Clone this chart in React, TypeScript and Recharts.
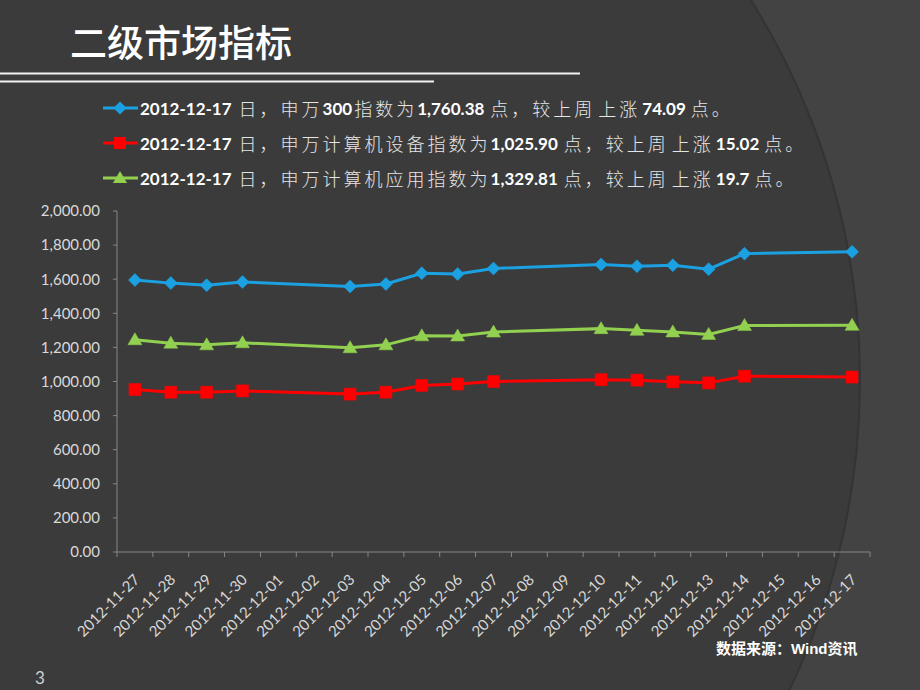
import { LineChart, Line, XAxis, YAxis } from 'recharts';

const dates = [
  '2012-11-27', '2012-11-28', '2012-11-29', '2012-11-30', '2012-12-01', '2012-12-02', '2012-12-03',
  '2012-12-04', '2012-12-05', '2012-12-06', '2012-12-07', '2012-12-08', '2012-12-09', '2012-12-10',
  '2012-12-11', '2012-12-12', '2012-12-13', '2012-12-14', '2012-12-15', '2012-12-16', '2012-12-17',
];
// 申万300
const sw300 = [1595, 1577, 1565, 1584, null, null, 1557, 1572, 1635, 1630, 1663, null, null, 1686.29, 1676, 1682, 1659, 1750, null, null, 1760.38];
// 申万计算机设备
const swEquipment = [953, 937, 937, 945, null, null, 926, 937, 977, 985, 1000, null, null, 1010.88, 1008, 998, 992, 1031, null, null, 1025.9];
// 申万计算机应用
const swSoftware = [1245, 1225, 1215, 1227, null, null, 1198, 1215, 1268, 1267, 1290, null, null, 1310.11, 1300, 1291, 1276, 1328, null, null, 1329.81];
const yTicks = [0, 200, 400, 600, 800, 1000, 1200, 1400, 1600, 1800, 2000];

const legendRows = [
  { color: '#1ba1e2', marker: 'diamond', pre: '申万', mid: '300', post: '指数为', value: '1,760.38', change: '74.09' },
  { color: '#ff0000', marker: 'square', pre: '申万计算机设备指数为', mid: '', post: '', value: '1,025.90', change: '15.02' },
  { color: '#92d050', marker: 'triangle', pre: '申万计算机应用指数为', mid: '', post: '', value: '1,329.81', change: '19.7' },
];

const data = dates.map((d, i) => ({ date: d, a: sw300[i], b: swEquipment[i], c: swSoftware[i] }));

const PLOT_LEFT = 117;
const PLOT_RIGHT = 870;
const BAND = (PLOT_RIGHT - PLOT_LEFT) / dates.length;
const X_TICK_MARGIN = 25;

const LATIN = 'Lato, "Noto Sans CJK SC", sans-serif';
const CJK = '"Noto Sans CJK SC", sans-serif';

function markerPath(kind: string, cx: number, cy: number) {
  if (kind === 'diamond') return `M${cx},${cy - 6.5}L${cx + 6.5},${cy}L${cx},${cy + 6.5}L${cx - 6.5},${cy}Z`;
  if (kind === 'square') return `M${cx - 6},${cy - 6}h12v12h-12Z`;
  return `M${cx},${cy - 7}L${cx + 7},${cy + 5}L${cx - 7},${cy + 5}Z`;
}

const makeDot = (kind: string, color: string) => (p: any) => {
  if (p.cy == null || p.value == null) return <g key={p.index} />;
  return <path key={p.index} d={markerPath(kind, p.cx, p.cy)} fill={color} stroke={color} strokeWidth={0.5} />;
};

const XTick = (props: any) => {
  const { x, y, payload, index } = props;
  const axisY = y - X_TICK_MARGIN;
  return (
    <g>
      <line x1={x - BAND / 2} y1={axisY} x2={x - BAND / 2} y2={axisY + 5} stroke="#868686" />
      {index === dates.length - 1 && (
        <line x1={x + BAND / 2} y1={axisY} x2={x + BAND / 2} y2={axisY + 5} stroke="#868686" />
      )}
      <text
        x={x + 2}
        y={y}
        transform={`rotate(-45, ${x + 2}, ${y})`}
        textAnchor="end"
        dy="0.35em"
        fill="#d9d9d9"
        fontSize={15}
        fontFamily={LATIN}
      >
        {payload.value}
      </text>
    </g>
  );
};

const fmt = (v: number) => v.toLocaleString('en-US', { minimumFractionDigits: 2, maximumFractionDigits: 2 });

const num = { fontFamily: LATIN, fontWeight: 700, fontSize: 17, color: '#ffffff' };
const han = { fontFamily: CJK, fontWeight: 300, fontSize: 18, letterSpacing: 3, color: '#e6e6e6' };

export default function App() {
  return (
    <div style={{ position: 'absolute', left: 0, top: 0, width: 920, height: 690, overflow: 'hidden', background: '#434343' }}>
      <svg width={920} height={690} style={{ position: 'absolute', left: 0, top: 0 }}>
        <circle cx={144} cy={380} r={717} fill="#343434" />
        <circle cx={144} cy={380} r={715} fill="#3b3b3b" />
        <line x1={0} y1={73.5} x2={580} y2={73.5} stroke="#f2f2f2" strokeWidth={2} />
        <line x1={0} y1={81.5} x2={434} y2={81.5} stroke="#f2f2f2" strokeWidth={2} />
      </svg>

      <div style={{ position: 'absolute', left: 70, top: 17, fontFamily: CJK, fontSize: 37, fontWeight: 500, color: '#ffffff', lineHeight: '48px' }}>
        二级市场指标
      </div>

      {legendRows.map((r, i) => (
        <div key={r.pre} style={{ position: 'absolute', left: 102, top: 96 + i * 35, height: 24, display: 'flex', alignItems: 'center', whiteSpace: 'nowrap' }}>
          <svg width={37} height={24} style={{ marginRight: 1 }}>
            <line x1={1} y1={12} x2={36} y2={12} stroke={r.color} strokeWidth={3} />
            <path d={markerPath(r.marker, 18, 12)} fill={r.color} />
          </svg>
          <span style={num}>2012-12-17</span>
          <span style={{ ...han, marginLeft: 7 }}>日，</span>
          <span style={han}>{r.pre}</span>
          {r.mid && <span style={{ ...num, marginRight: 2 }}>{r.mid}</span>}
          {r.post && <span style={han}>{r.post}</span>}
          <span style={num}>{r.value}</span>
          <span style={{ ...han, marginLeft: 6 }}>点，</span>
          <span style={{ ...han, marginLeft: 0 }}>较上周</span>
          <span style={{ ...han, marginLeft: 3, marginRight: 2 }}>上涨</span>
          <span style={num}>{r.change}</span>
          <span style={{ ...han, marginLeft: 5 }}>点。</span>
        </div>
      ))}

      <div style={{ position: 'absolute', left: 0, top: 0 }}>
        <LineChart width={920} height={690} data={data} margin={{ top: 211, right: 920 - PLOT_RIGHT, bottom: 38, left: PLOT_LEFT - 80 }}>
          <XAxis
            dataKey="date"
            interval={0}
            height={100}
            padding={{ left: BAND / 2, right: BAND / 2 }}
            tickLine={false}
            tickSize={0}
            tickMargin={X_TICK_MARGIN}
            axisLine={{ stroke: '#868686' }}
            tick={<XTick />}
          />
          <YAxis
            width={80}
            domain={[0, 2000]}
            ticks={yTicks}
            tickFormatter={fmt}
            tickSize={4}
            tickMargin={13}
            axisLine={{ stroke: '#868686' }}
            tickLine={{ stroke: '#868686' }}
            tick={{ fill: '#d9d9d9', fontSize: 15, fontFamily: LATIN }}
          />
          <Line dataKey="a" stroke="#1ba1e2" strokeWidth={3} connectNulls isAnimationActive={false} dot={makeDot('diamond', '#1ba1e2')} activeDot={false} />
          <Line dataKey="b" stroke="#ff0000" strokeWidth={3} connectNulls isAnimationActive={false} dot={makeDot('square', '#ff0000')} activeDot={false} />
          <Line dataKey="c" stroke="#92d050" strokeWidth={3} connectNulls isAnimationActive={false} dot={makeDot('triangle', '#92d050')} activeDot={false} />
        </LineChart>
      </div>

      <div style={{ position: 'absolute', left: 716, top: 637, fontFamily: CJK, fontWeight: 700, fontSize: 15, color: '#ffffff', whiteSpace: 'nowrap' }}>
        数据来源：<span style={{ fontFamily: 'Liberation Sans, sans-serif' }}>Wind</span>资讯
      </div>
      <div style={{ position: 'absolute', left: 35, top: 667, fontFamily: LATIN, fontSize: 17, color: '#d0d0d0' }}>3</div>
    </div>
  );
}
